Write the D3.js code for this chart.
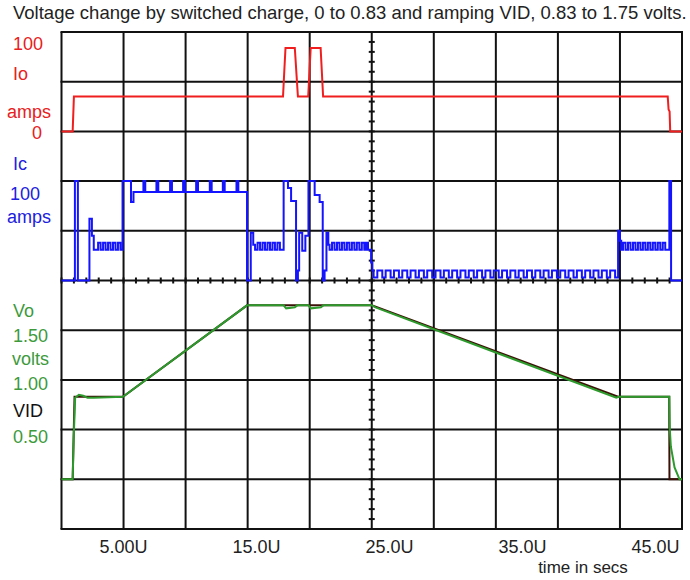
<!DOCTYPE html>
<html>
<head>
<meta charset="utf-8">
<script src="https://cdn.jsdelivr.net/npm/d3@7"></script>
<style>
  body { margin: 0; background: #fff; }
  text { font-family: "Liberation Sans", Arial, sans-serif; }
</style>
</head>
<body>
<svg id="scope" width="690" height="580"></svg>
<script>
// ---- data -------------------------------------------------------------
// time axis (microseconds)
const timeTicks = [5, 15, 25, 35, 45];
const timeTickLabels = ["5.00U", "15.0U", "25.0U", "35.0U", "45.0U"];

// output current Io, amps: [time, amps]
const ioTrace = [
  [0, 0], [0.9, 0], [1.0, 35], [17.85, 35], [17.95, 60], [18.05, 84], [18.8, 84], [19.05, 35],
  [19.88, 35], [19.98, 60], [20.08, 84], [20.88, 84], [21.08, 35], [48.85, 35], [48.92, 22],
  [49.0, 20], [49.05, 0], [50, 0]
];

// charge current Ic, amps: [time, level from this time on]
const icTrace = [
  [0, 0], [1.08, 100], [1.32, 0], [2.25, 62], [2.45, 45], [2.6, 31],
  [2.95, 38], [3.15, 31], [3.35, 38], [3.55, 31], [3.75, 38], [3.95, 31], [4.15, 38], [4.35, 31],
  [4.55, 38], [4.75, 31],
  [4.92, 100], [5.6, 79], [5.8, 89],
  [6.6, 100], [6.75, 89], [7.65, 100], [7.8, 89], [8.75, 100], [8.9, 89], [9.8, 100], [9.95, 89],
  [10.85, 100], [11.0, 89], [11.95, 100], [12.1, 89], [13.0, 100], [13.15, 89], [14.1, 100], [14.25, 89],
  [14.95, 0], [15.25, 48], [15.45, 36], [15.6, 31],
  [15.8, 38], [16.0, 31], [16.2, 38], [16.4, 31], [16.6, 38], [16.8, 31], [17.0, 38], [17.2, 31],
  [17.4, 38], [17.6, 31],
  [17.9, 100], [18.25, 93], [18.5, 80], [18.9, 0], [19.05, 10], [19.15, 48], [19.4, 30], [19.65, 45],
  [19.9, 100], [20.4, 86], [20.8, 79], [21.05, 0], [21.2, 10], [21.35, 48], [21.5, 36], [21.6, 31],
  [21.8, 38], [22.0, 31], [22.2, 38], [22.4, 31], [22.6, 38], [22.8, 31], [23.0, 38], [23.2, 31],
  [23.4, 38], [23.6, 31], [23.8, 38], [24.0, 31], [24.2, 38], [24.4, 31], [24.55, 38], [24.7, 31],
  [24.95, 18], [25.05, 10], [25.15, 3],
  [25.45, 10], [25.85, 3], [26.12, 10], [26.52, 3], [26.79, 10], [27.19, 3], [27.46, 10], [27.86, 3],
  [28.13, 10], [28.53, 3], [28.80, 10], [29.20, 3], [29.47, 10], [29.87, 3], [30.14, 10], [30.54, 3],
  [30.81, 10], [31.21, 3], [31.48, 10], [31.88, 3], [32.15, 10], [32.55, 3], [32.82, 10], [33.22, 3],
  [33.49, 10], [33.89, 3], [34.16, 10], [34.56, 3], [34.83, 10], [35.23, 3], [35.50, 10], [35.90, 3],
  [36.17, 10], [36.57, 3], [36.84, 10], [37.24, 3], [37.51, 10], [37.91, 3], [38.18, 10], [38.58, 3],
  [38.85, 10], [39.25, 3], [39.52, 10], [39.92, 3], [40.19, 10], [40.59, 3], [40.86, 10], [41.26, 3],
  [41.53, 10], [41.93, 3], [42.20, 10], [42.60, 3], [42.87, 10], [43.27, 3], [43.54, 10], [43.94, 3],
  [44.21, 10], [44.61, 3],
  [44.85, 50], [45.0, 40], [45.1, 31],
  [45.25, 38], [45.45, 31], [45.65, 38], [45.85, 31], [46.05, 38], [46.25, 31], [46.45, 38], [46.65, 31],
  [46.85, 38], [47.05, 31], [47.25, 38], [47.45, 31], [47.65, 38], [47.85, 31], [48.05, 38], [48.25, 31],
  [48.45, 38], [48.65, 31],
  [48.98, 100], [49.12, 0], [50, 0]
];

// VID reference, volts: [time, volts]
const vidTrace = [
  [0, 0], [0.9, 0], [1.05, 0.83], [4.95, 0.83], [14.95, 1.75], [25.0, 1.75], [44.85, 0.83],
  [48.97, 0.83], [48.99, 0], [50, 0]
];

// output voltage Vo, volts: [time, volts]
const voTrace = [
  [0, 0], [0.9, 0], [0.98, 0.4], [1.1, 0.82], [1.4, 0.85], [1.75, 0.84], [2.1, 0.82], [2.6, 0.82],
  [4.95, 0.83], [14.95, 1.75], [17.9, 1.75], [18.1, 1.72], [18.8, 1.73], [19.0, 1.75], [19.9, 1.75],
  [20.1, 1.72], [20.9, 1.73], [21.1, 1.75], [25.0, 1.75], [25.3, 1.73], [44.7, 0.82], [44.9, 0.83],
  [48.98, 0.83], [49.02, 0.5], [49.1, 0.33], [49.4, 0.12], [49.8, 0], [50, 0]
];

// ---- layout -----------------------------------------------------------
const svg = d3.select("#scope");
const gridLeft = 61.5, gridRight = 682, gridTop = 32, gridBottom = 529;

const xDiv = d3.scaleLinear().domain([0, 10]).range([gridLeft, gridRight]);
const yDiv = d3.scaleLinear().domain([0, 10]).range([gridTop, gridBottom]);
const x = d3.scaleLinear().domain([0, 50]).range([gridLeft, gridRight]);

// each channel has its own vertical window on the screen
const yIo = d3.scaleLinear().domain([0, 100]).range([yDiv(2), yDiv(0)]);
const yIc = d3.scaleLinear().domain([0, 100]).range([yDiv(5), yDiv(3)]);
const yVo = d3.scaleLinear().domain([0, 2]).range([yDiv(9), yDiv(5)]);

// time labels are printed on their own spacing under the screen
const xLabel = d3.scaleLinear().domain([5, 45]).range([123, 655]);

// ---- graticule --------------------------------------------------------
const grid = svg.append("g").attr("stroke", "#111").attr("stroke-width", 2).attr("fill", "none");
grid.selectAll("line.v").data(d3.range(11)).join("line")
  .attr("x1", d => xDiv(d)).attr("x2", d => xDiv(d))
  .attr("y1", gridTop).attr("y2", gridBottom);
grid.selectAll("line.h").data(d3.range(11)).join("line")
  .attr("y1", d => yDiv(d)).attr("y2", d => yDiv(d))
  .attr("x1", gridLeft - 1).attr("x2", gridRight + 1);

// minor ticks along the two centre axes
const minor = svg.append("g").attr("stroke", "#111").attr("stroke-width", 2);
minor.selectAll("line.mv").data(d3.range(0, 50)).join("line")
  .attr("x1", xDiv(5) - 3).attr("x2", xDiv(5) + 3)
  .attr("y1", d => yDiv(d / 5)).attr("y2", d => yDiv(d / 5));
minor.selectAll("line.mh").data(d3.range(0, 50)).join("line")
  .attr("y1", yDiv(5) - 3).attr("y2", yDiv(5) + 3)
  .attr("x1", d => xDiv(d / 5)).attr("x2", d => xDiv(d / 5));

// ---- traces -----------------------------------------------------------
const lineIo = d3.line().x(d => x(d[0])).y(d => yIo(d[1]));
const lineIc = d3.line().curve(d3.curveStepAfter).x(d => x(d[0])).y(d => yIc(d[1]));
const lineVo = d3.line().x(d => x(d[0])).y(d => yVo(d[1]));

svg.append("path").datum(ioTrace).attr("d", lineIo)
  .attr("fill", "none").attr("stroke", "#f01e1e").attr("stroke-width", 2);
svg.append("path").datum(icTrace).attr("d", lineIc)
  .attr("fill", "none").attr("stroke", "#1414ff").attr("stroke-width", 2);
svg.append("path").datum(vidTrace).attr("d", lineVo)
  .attr("fill", "none").attr("stroke", "#3c1208").attr("stroke-width", 2);
svg.append("path").datum(voTrace).attr("d", lineVo)
  .attr("fill", "none").attr("stroke", "#2c9a2c").attr("stroke-width", 2);

// ---- text -------------------------------------------------------------
svg.append("text").attr("x", 13).attr("y", 19).attr("font-size", 18.5).attr("fill", "#222")
  .text("Voltage change by switched charge, 0 to 0.83 and ramping VID, 0.83 to 1.75 volts.");

const sideLabels = [
  { t: "100", x: 13, y: 50, c: "#e82020" },
  { t: "Io", x: 13, y: 80, c: "#e82020" },
  { t: "amps", x: 7, y: 117.5, c: "#e82020" },
  { t: "0", x: 32, y: 139, c: "#e82020" },
  { t: "Ic", x: 13, y: 170, c: "#2020e0" },
  { t: "100", x: 10, y: 200, c: "#2020e0" },
  { t: "amps", x: 7, y: 222.5, c: "#2020e0" },
  { t: "Vo", x: 13, y: 316.5, c: "#3c9a3c" },
  { t: "1.50", x: 13, y: 341.5, c: "#3c9a3c" },
  { t: "volts", x: 12, y: 365, c: "#3c9a3c" },
  { t: "1.00", x: 13, y: 390, c: "#3c9a3c" },
  { t: "VID", x: 13, y: 416.5, c: "#111" },
  { t: "0.50", x: 13, y: 443, c: "#3c9a3c" }
];
svg.append("g").selectAll("text").data(sideLabels).join("text")
  .attr("x", d => d.x).attr("y", d => d.y).attr("font-size", 18)
  .attr("fill", d => d.c).text(d => d.t);

const axis = svg.append("g").attr("transform", `translate(0,${gridBottom})`)
  .call(d3.axisBottom(xLabel).tickValues(timeTicks)
    .tickFormat((d, i) => timeTickLabels[i]).tickSize(0).tickPadding(11));
axis.select(".domain").remove();
axis.selectAll("text").attr("font-size", 18).attr("fill", "#222")
  .attr("font-family", "'Liberation Sans', Arial, sans-serif");

svg.append("text").attr("x", 583).attr("y", 573).attr("font-size", 17)
  .attr("text-anchor", "middle").attr("fill", "#222").text("time in secs");
</script>
</body>
</html>
